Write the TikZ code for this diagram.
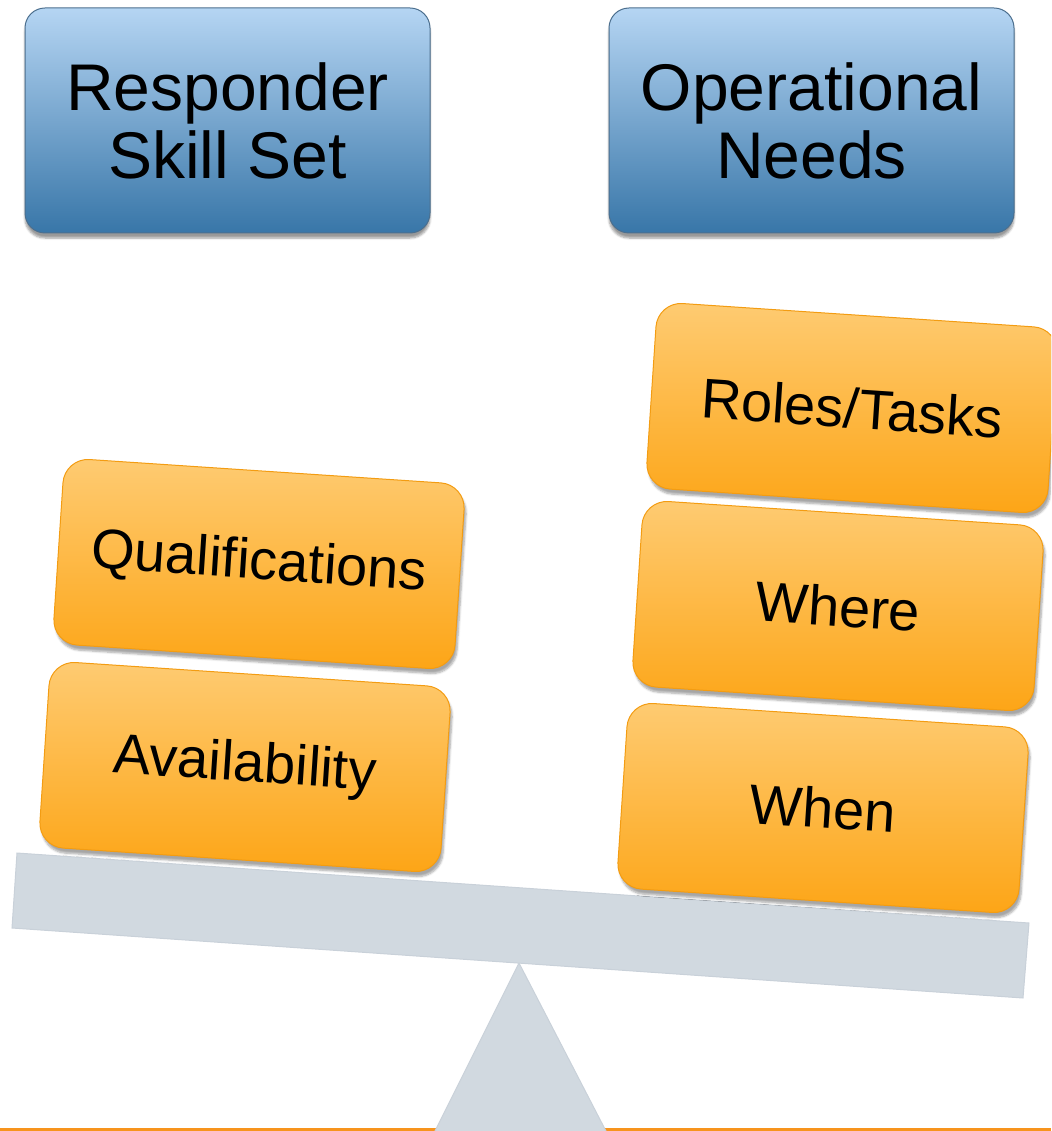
\documentclass[tikz,border=0pt]{standalone}
\usepackage{fontspec}
\setmainfont{Liberation Sans}
\usetikzlibrary{shadows.blur}
\definecolor{bluetop}{HTML}{B5D5F3}
\definecolor{bluebot}{HTML}{3876A8}
\definecolor{blueedge}{HTML}{4C6F8E}
\definecolor{orgtop}{HTML}{FECB72}
\definecolor{orgbot}{HTML}{FDA516}
\definecolor{orgedge}{HTML}{F39C12}
\definecolor{beamgrey}{HTML}{D1D9E0}
\definecolor{beamedge}{HTML}{C9D1D9}
\definecolor{lineorange}{HTML}{F7941D}
\begin{document}
\begin{tikzpicture}[x=1pt,y=-1pt,
  bluebox/.style={rounded corners=20pt, minimum width=405pt, minimum height=225pt,
    top color=bluetop, bottom color=bluebot, draw=blueedge, line width=1pt,
    align=center, inner sep=0pt, font=\fontsize{66}{68}\selectfont,
    blur shadow={shadow xshift=0pt, shadow yshift=-5pt, shadow opacity=40, shadow blur steps=6}},
  orangebox/.style={rotate=-3.8, rounded corners=25pt, minimum width=402pt, minimum height=186pt,
    top color=orgtop, bottom color=orgbot, draw=orgedge, line width=1pt,
    inner sep=0pt, font=\fontsize{56}{60}\selectfont,
    blur shadow={shadow xshift=2pt, shadow yshift=-5pt, shadow opacity=35, shadow blur steps=6}},
  beamstyle/.style={fill=beamgrey, draw=beamedge, line width=1pt}
]
\useasboundingbox (0,0) rectangle (1051,1131);
\clip (0,0) rectangle (1051,1131);
% ground line
\draw[lineorange, line width=3pt] (0,1129.5) -- (1051,1129.5);
% fulcrum
\coordinate (apex) at (519,963);
\coordinate (fl) at (434,1133);
\coordinate (fr) at (607,1133);
\filldraw[beamstyle] (apex) -- (fr) -- (fl) -- cycle;
% beam
\coordinate (b1) at (17,853);
\coordinate (b2) at (1029,923);
\coordinate (b3) at (1023,998);
\coordinate (b4) at (12,928);
\filldraw[beamstyle] (b1) -- (b2) -- (b3) -- (b4) -- cycle;
% header boxes
\node[bluebox] (resp) at (227.5,120.5) {Responder\\Skill Set};
\node[bluebox] (oper) at (811.5,120.5) {Operational\\Needs};
% left stack
\node[orangebox] (avail) at (245,767) {Availability};
\node[orangebox] (qual) at (259,564) {Qualifications};
% right stack
\node[orangebox] (when) at (823,808) {When};
\node[orangebox] (where) at (838,606) {Where};
\node[orangebox] (roles) at (852,408) {Roles/Tasks};
\end{tikzpicture}
\end{document}
